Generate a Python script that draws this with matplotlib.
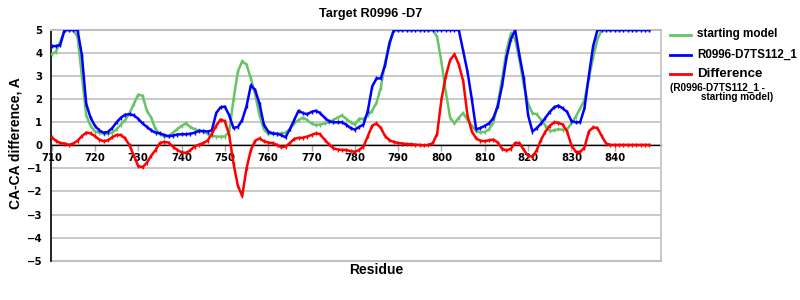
import matplotlib
matplotlib.use("Agg")
import matplotlib.pyplot as plt
from matplotlib.lines import Line2D

residues = list(range(710, 849))

# CA-CA difference of the submitted model, A (capped at 5)
model_vals = [
    4.3, 4.3, 4.35, 5, 5, 5, 5, 3.9, 1.8, 1.2,            # 710
    0.85, 0.65, 0.55, 0.58, 0.75, 1.0, 1.2, 1.33, 1.35, 1.3,  # 720
    1.15, 0.95, 0.8, 0.65, 0.55, 0.52, 0.45, 0.4, 0.42, 0.47,  # 730
    0.48, 0.48, 0.5, 0.55, 0.62, 0.62, 0.6, 0.65, 1.4, 1.65,  # 740
    1.68, 1.3, 0.75, 0.8, 1.1, 1.7, 2.6, 2.4, 1.8, 0.9,       # 750
    0.6, 0.52, 0.5, 0.45, 0.35, 0.7, 1.1, 1.5, 1.4, 1.35,     # 760
    1.45, 1.5, 1.4, 1.2, 1.05, 1.0, 1.0, 1.0, 0.9, 0.75,      # 770
    0.68, 0.8, 0.9, 1.5, 2.55, 2.9, 2.9, 3.5, 4.4, 5,         # 780
    5, 5, 5, 5, 5, 5, 5, 5, 5, 5,                             # 790
    5, 5, 5, 5, 5, 4.1, 3.2, 2.0, 0.7, 0.75,                  # 800
    0.85, 0.95, 1.2, 1.7, 2.6, 3.8, 4.6, 5.0, 3.9, 2.9,       # 810
    1.3, 0.6, 0.75, 0.95, 1.2, 1.45, 1.65, 1.72, 1.6, 1.45,   # 820
    1.05, 1.0, 1.0, 1.6, 3.0, 4.3, 5, 5, 5, 5,                # 830
    5, 5, 5, 5, 5, 5, 5, 5, 5,                                # 840
]

# starting model
start_vals = [
    3.95, 4.05, 4.5, 5, 5, 5, 4.7, 3.0, 1.3, 0.85,
    0.6, 0.55, 0.5, 0.5, 0.55, 0.7, 0.9, 1.1, 1.4, 1.8,
    2.2, 2.15, 1.5, 1.2, 0.7, 0.5, 0.38, 0.4, 0.55, 0.7,
    0.85, 0.95, 0.8, 0.7, 0.65, 0.6, 0.5, 0.42, 0.38, 0.38,
    0.38, 0.6, 2.0, 3.2, 3.65, 3.5, 2.9, 2.2, 1.3, 0.7,
    0.5, 0.5, 0.5, 0.52, 0.55, 0.7, 0.95, 1.1, 1.2, 1.1,
    0.95, 0.88, 0.9, 0.95, 1.0, 1.1, 1.2, 1.3, 1.15, 1.0,
    0.9, 1.15, 1.15, 1.3, 1.5, 1.85, 2.5, 3.6, 4.5, 5,
    5, 5, 5, 5, 5, 5, 5, 5, 5, 4.7,
    3.6, 2.3, 1.2, 0.95, 1.2, 1.4, 1.1, 0.85, 0.62, 0.56,
    0.58, 0.7, 1.0, 1.8, 2.9, 4.1, 4.85, 4.6, 3.7, 2.6,
    1.8, 1.39, 1.35, 1.1, 0.85, 0.62, 0.65, 0.7, 0.68, 0.7,
    0.95, 1.25, 1.6, 1.95, 2.9, 3.8, 4.6, 5, 5, 5,
    5, 5, 5, 5, 5, 5, 5, 5, 5,
]

# model - starting model
diff_vals = [
    0.35, 0.2, 0.1, 0.08, 0.02, 0.08, 0.2, 0.4, 0.55, 0.52,
    0.4, 0.25, 0.18, 0.22, 0.35, 0.45, 0.45, 0.3, 0.0, -0.45,
    -0.9, -0.95, -0.75, -0.45, -0.2, 0.1, 0.15, 0.12, -0.05, -0.2,
    -0.3, -0.33, -0.22, -0.05, 0.03, 0.1, 0.2, 0.5, 0.85, 1.12,
    1.05, 0.45, -0.8, -1.75, -2.2, -1.0, -0.2, 0.2, 0.3, 0.18,
    0.12, 0.1, 0.02, -0.08, -0.05, 0.1, 0.28, 0.32, 0.33, 0.38,
    0.45, 0.52, 0.48, 0.25, 0.05, -0.12, -0.18, -0.2, -0.2, -0.25,
    -0.28, -0.2, -0.05, 0.4, 0.85, 0.95, 0.75, 0.4, 0.22, 0.15,
    0.1, 0.08, 0.05, 0.05, 0.03, 0.02, 0.0, 0.02, 0.1, 0.5,
    2.0, 3.0, 3.7, 3.95, 3.5, 2.8, 1.3, 0.6, 0.3, 0.2,
    0.18, 0.22, 0.25, 0.12, -0.15, -0.22, -0.15, 0.1, 0.1, -0.2,
    -0.45, -0.5, -0.2, 0.25, 0.6, 0.85, 1.0, 0.98, 0.9, 0.6,
    0.0, -0.28, -0.28, -0.1, 0.6, 0.78, 0.75, 0.4, 0.08, 0.02,
    0.02, 0.02, 0.02, 0.02, 0.02, 0.02, 0.02, 0.02, 0.02,
]

x_ticks = list(range(710, 850, 10))
y_ticks = [-5, -4, -3, -2, -1, 0, 1, 2, 3, 4, 5]

GREEN = "#66c466"
BLUE = "#0000ff"
RED = "#ff0000"
GRID = "#c0c0c0"
BOLD = ["Liberation Sans", "DejaVu Sans"]

W, H = 800, 300
fig = plt.figure(figsize=(8, 3), dpi=100)
ax = fig.add_axes([50.7 / W, 1 - 260.7 / H, (660.7 - 50.7) / W, (260.7 - 30) / H])

line_kw = dict(lw=1.8, marker="|", ms=2.5, mew=1, solid_joinstyle="round")
ax.plot(residues, start_vals, color=GREEN, zorder=3, **line_kw)
ax.plot(residues, model_vals, color=BLUE, zorder=4, **line_kw)
ax.plot(residues, diff_vals, color=RED, zorder=5, **line_kw)

ax.set_xlim(709.8, 850.6)
ax.set_ylim(-5, 5)
ax.set_yticks(y_ticks)
ax.set_yticklabels([f"{v}" if v >= 0 else f"\u2212{-v}" for v in y_ticks])
ax.set_xticks(x_ticks)
ax.set_xticklabels([str(v) for v in x_ticks])

ax.yaxis.grid(True, color=GRID, lw=1.2, zorder=0)
ax.set_axisbelow(True)
ax.axhline(-5, color=GRID, lw=1.5, clip_on=False, zorder=1)

ax.spines["bottom"].set_position(("data", 0))
ax.spines["bottom"].set_color("black")
ax.spines["bottom"].set_linewidth(1.0)
ax.spines["bottom"].set_zorder(2)
ax.spines["left"].set_color("black")
ax.spines["left"].set_linewidth(1.2)
ax.spines["top"].set_color(GRID)
ax.spines["top"].set_linewidth(1.5)
ax.spines["right"].set_color(GRID)
ax.spines["right"].set_linewidth(1.2)

ax.tick_params(axis="x", length=4, width=1, color="#a8a8a8", pad=1.5)
ax.tick_params(axis="y", length=0, pad=6)
for lab in ax.get_xticklabels() + ax.get_yticklabels():
    lab.set_fontfamily("DejaVu Sans")
    lab.set_fontweight("bold")
    lab.set_fontsize(7.3)

fig.text(371 / W, 1 - 14 / H, "Target R0996 -D7", ha="center", va="center",
         family=BOLD, weight="bold", fontsize=9.2)
fig.text(16 / W, 1 - 143 / H, "CA-CA difference, A", ha="center", va="center",
         rotation=90, family=BOLD, weight="bold", fontsize=10)
fig.text(376 / W, 1 - 270 / H, "Residue", ha="center", va="center",
         family=BOLD, weight="bold", fontsize=10)

# legend drawn by hand, to the right of the plot
entries = [(GREEN, 34.5, "starting model", 8.4), (BLUE, 54.5, "R0996-D7TS112_1", 8.4),
           (RED, 74, "Difference", 9.6)]
for color, yy, label, size in entries:
    fig.add_artist(Line2D([670 / W, 691 / W], [1 - yy / H, 1 - yy / H], color=color, lw=2))
    fig.text(697 / W, 1 - yy / H, label, ha="left", va="center",
             family=BOLD, weight="bold", fontsize=size)
fig.text(670 / W, 1 - 87.5 / H, "(R0996-D7TS112_1 -", ha="left", va="center",
         family=BOLD, weight="bold", fontsize=7.2)
fig.text(701 / W, 1 - 97.5 / H, "starting model)", ha="left", va="center",
         family=BOLD, weight="bold", fontsize=7.2)

fig.savefig("out.png", dpi=100)
plt.close(fig)
